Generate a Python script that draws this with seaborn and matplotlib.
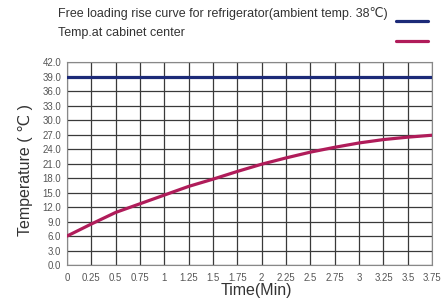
import numpy as np
import pandas as pd
import matplotlib
matplotlib.use("Agg")
import matplotlib.pyplot as plt
import seaborn as sns

time_min = [0, 0.25, 0.5, 0.75, 1, 1.25, 1.5, 1.75, 2, 2.25, 2.5, 2.75, 3, 3.25, 3.5, 3.75]
ambient = [39.0] * 16
cabinet_center = [6.0, 8.5, 10.9, 12.7, 14.5, 16.3, 17.8, 19.4, 20.9, 22.2, 23.4, 24.4, 25.3, 26.0, 26.5, 26.9]
x_tick_labels = ["0", "0.25", "0.5", "0.75", "1", "1.25", "1.5", "1.75", "2",
                 "2.25", "2.5", "2.75", "3", "3.25", "3.5", "3.75"]
y_ticks = [0, 3, 6, 9, 12, 15, 18, 21, 24, 27, 30, 33, 36, 39, 42]
series_names = ["Free loading rise curve for refrigerator(ambient temp. 38℃)",
                "Temp.at cabinet center"]

sns.set_style("white")
plt.rcParams["font.family"] = ["Liberation Sans", "DejaVu Sans"]

df = pd.DataFrame({
    "time": time_min * 2,
    "temp": ambient + cabinet_center,
    "series": [series_names[0]] * 16 + [series_names[1]] * 16,
})

fig = plt.figure(figsize=(4.46, 3.04), dpi=100)
ax = fig.add_axes([0.150, 0.128, 0.819, 0.667])

# grid
for t in time_min:
    ax.axvline(t, color="#3a3a3a", linewidth=0.9, zorder=1)
for v in y_ticks:
    ax.axhline(v, color="#3a3a3a", linewidth=0.9, zorder=1)

sns.lineplot(data=df, x="time", y="temp", hue="series",
             palette=["#1c2a78", "#b01c5a"], linewidth=2.3, ax=ax, zorder=3)

ax.set_xlim(0, 3.75)
ax.set_ylim(0, 42)
ax.set_xticks(time_min)
ax.set_xticklabels(x_tick_labels)
ax.set_yticks(y_ticks)
ax.set_yticklabels([f"{v:.1f}" for v in y_ticks])
ax.tick_params(axis="both", labelsize=6.9, colors="#555555", length=2, width=0.6)
ax.tick_params(axis="y", pad=2)
for s in ax.spines.values():
    s.set_color("#888888")
    s.set_linewidth(0.8)

ax.set_xlabel("Time(Min)", fontsize=11.5, color="#333333")
ax.xaxis.set_label_coords(0.518, -0.09)
ax.set_ylabel("Temperature ( ℃ )", fontsize=11.5, color="#333333")
ax.yaxis.set_label_coords(-0.092, 0.468)

# legend: handles on the right, texts left-aligned at the top
handles, labels = ax.get_legend_handles_labels()
ax.legend(handles, ["", ""], loc="upper right", bbox_to_anchor=(0.97, 0.962),
          bbox_transform=fig.transFigure, frameon=False, markerfirst=False,
          fontsize=9, handlelength=2.5, handletextpad=0, labelspacing=0.6,
          borderaxespad=0)
fig.text(58 / 446, 1 - 14 / 304, labels[0], fontsize=9.0, color="#333333", va="center")
fig.text(58 / 446, 1 - 33 / 304, labels[1], fontsize=9.0, color="#333333", va="center")

fig.savefig("out.png", dpi=100)
